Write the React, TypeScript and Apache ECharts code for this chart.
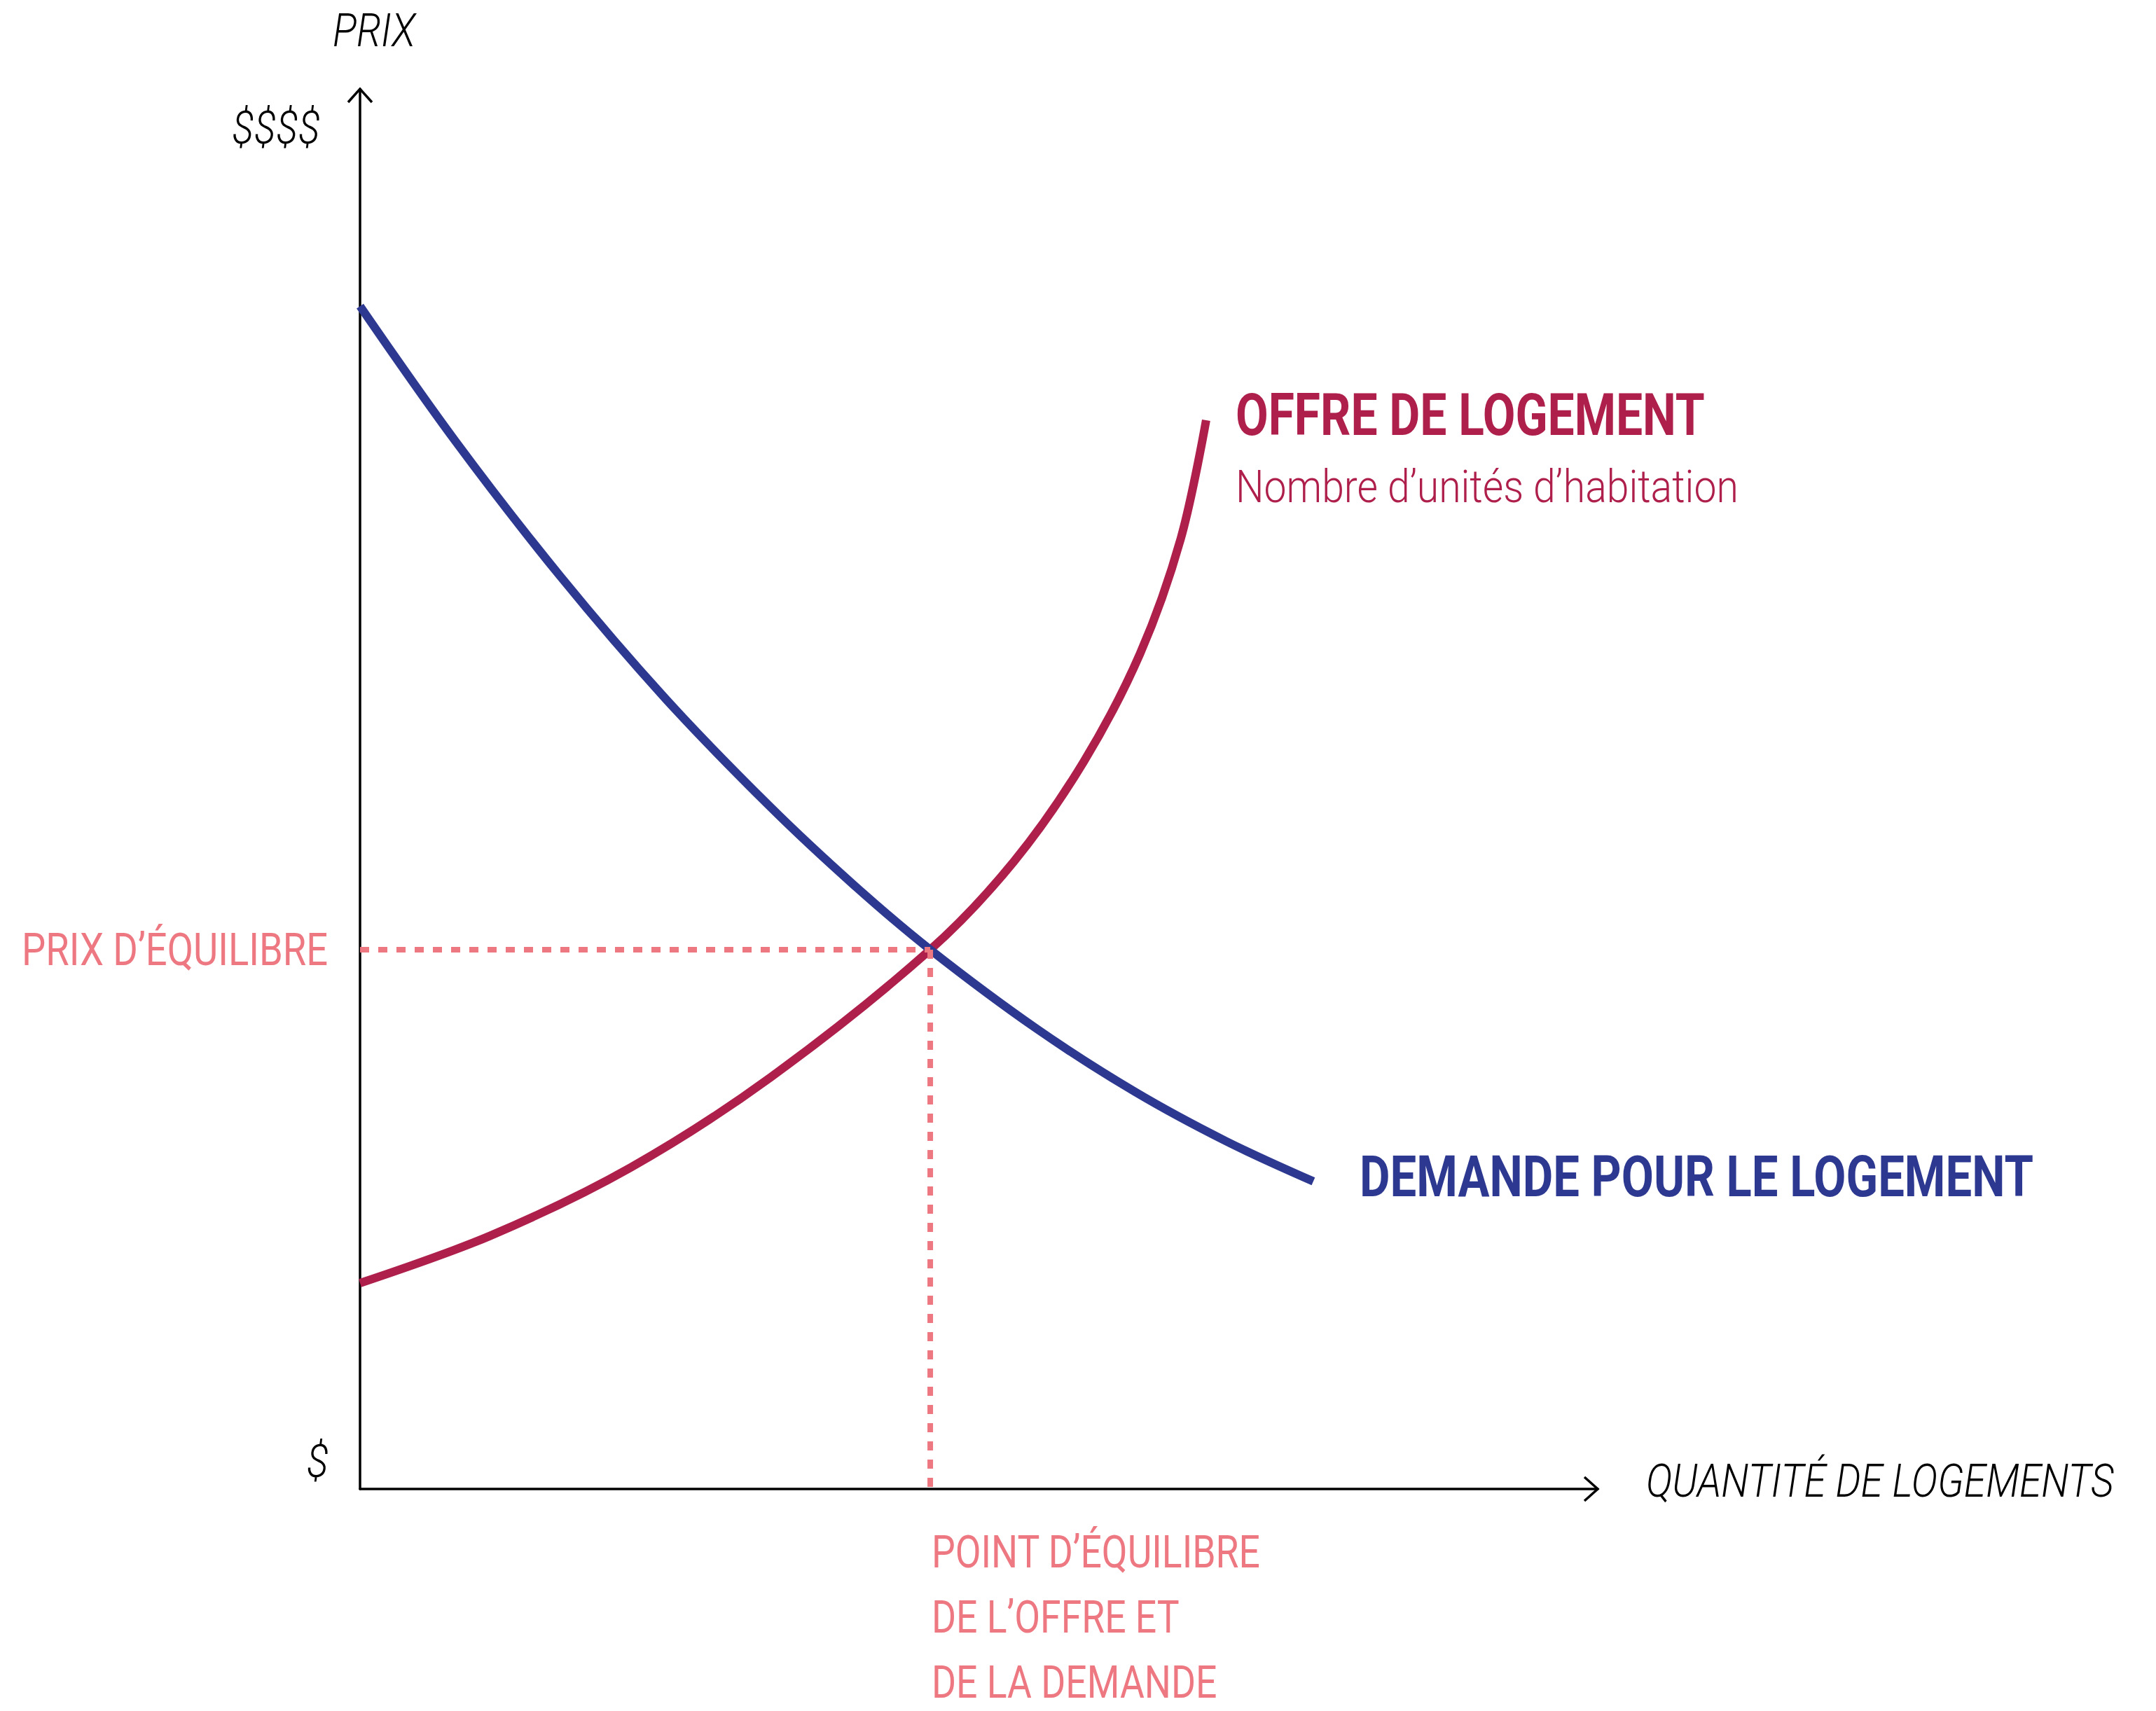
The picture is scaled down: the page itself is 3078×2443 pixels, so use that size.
import React, { useEffect, useRef } from "react";
import * as echarts from "echarts";

// Schematic values: quantity (0-100) and price (0-100)
const demandQ = [0, 7.7, 16.19, 24.67, 33.16, 39.95, 46.07, 54.67, 62.59, 69.95, 77.02];
const demandP = [84.49, 74.85, 65.18, 56.46, 48.71, 43.1, 38.52, 32.87, 28.38, 24.85, 21.97];
const supplyQ = [0, 10.53, 21.84, 33.16, 46.07, 52.84, 58.48, 63.03, 66.31, 68.36];
const supplyP = [14.71, 18.09, 22.95, 29.4, 38.52, 44.83, 51.96, 59.68, 67.88, 76.34];
const equilibriumQ = 46.07;
const equilibriumP = 38.52;
const axisMax = [100, 100];

const yAxisTitle = "PRIX";
const yTopLabel = "$$$$";
const yBottomLabel = "$";
const xAxisTitle = "QUANTITÉ DE LOGEMENTS";
const eqPriceLabel = "PRIX D’ÉQUILIBRE";
const eqPointLines = ["POINT D’ÉQUILIBRE", "DE L’OFFRE ET", "DE LA DEMANDE"];
const supplyTitle = "OFFRE DE LOGEMENT";
const supplySubtitle = "Nombre d’unités d’habitation";
const demandTitle = "DEMANDE POUR LE LOGEMENT";

const BLUE = "#2d3990";
const CRIMSON = "#ae1f4b";
const PINK = "#ee7881";
const FAMILY = "Roboto, 'Noto Sans', sans-serif";

export default function App() {
  const ref = useRef<HTMLDivElement>(null);

  useEffect(() => {
    if (!ref.current) return;
    const chart = echarts.init(ref.current, null, { renderer: "svg" });
    const zip = (a: number[], b: number[]) => a.map((v, i) => [v, b[i]]);

    const ctx = document.createElement("canvas").getContext("2d") as CanvasRenderingContext2D;
    const fontOf = (size: number, weight: number, italic: boolean) =>
      `${italic ? "italic " : ""}${weight} ${size}px ${FAMILY}`;
    const measure = (text: string, font: string) => {
      ctx.font = font;
      return ctx.measureText(text).width || 1;
    };
    const fitScale = (text: string, font: string, width: number) => width / measure(text, font);

    const txt = (
      text: string,
      x: number,
      y: number,
      font: string,
      color: string,
      scaleX: number,
      align: string = "left",
      lineHeight?: number
    ) => ({
      type: "text",
      x,
      y,
      scaleX,
      silent: true,
      style: { text, fill: color, font, align, verticalAlign: "middle", ...(lineHeight ? { lineHeight } : {}) },
    });

    chart.setOption({
      animation: false,
      backgroundColor: "#ffffff",
      grid: { left: 514, top: 127, width: 1767, height: 1999, containLabel: false },
      xAxis: {
        type: "value",
        min: 0,
        max: axisMax[0],
        axisLine: { show: true, onZero: false, lineStyle: { color: "#000", width: 3.5 } },
        axisTick: { show: false },
        axisLabel: { show: false },
        splitLine: { show: false },
      },
      yAxis: {
        type: "value",
        min: 0,
        max: axisMax[1],
        axisLine: { show: true, onZero: false, lineStyle: { color: "#000", width: 3.5 } },
        axisTick: { show: false },
        axisLabel: { show: false },
        splitLine: { show: false },
      },
      series: [
        {
          name: "Offre",
          type: "line",
          data: zip(supplyQ, supplyP),
          smooth: 0.35,
          symbol: "none",
          z: 2,
          lineStyle: { color: CRIMSON, width: 12, cap: "butt" },
        },
        {
          name: "Demande",
          type: "line",
          data: zip(demandQ, demandP),
          smooth: 0.35,
          symbol: "none",
          z: 3,
          lineStyle: { color: BLUE, width: 12, cap: "butt" },
        },
        {
          name: "Prix d'équilibre",
          type: "line",
          data: [[0, equilibriumP], [equilibriumQ, equilibriumP]],
          symbol: "none",
          z: 4,
          lineStyle: { color: PINK, width: 8, type: [13, 13], cap: "butt" },
        },
        {
          name: "Quantité d'équilibre",
          type: "line",
          data: [[equilibriumQ, equilibriumP], [equilibriumQ, 0]],
          symbol: "none",
          z: 4,
          lineStyle: { color: PINK, width: 8, type: [13, 13], cap: "butt" },
        },
      ],
    });

    const yTop = chart.convertToPixel({ gridIndex: 0 }, [0, axisMax[1]]) as number[];
    const xEnd = chart.convertToPixel({ gridIndex: 0 }, [axisMax[0], 0]) as number[];

    const fItal66 = fontOf(66, 300, true);
    const fItal67 = fontOf(67, 300, true);
    const fPink = fontOf(64, 400, false);
    const fBold83 = fontOf(83, 700, false);
    const fBold82 = fontOf(82, 700, false);
    const fSub = fontOf(64, 300, false);

    const dollarScale = fitScale(yTopLabel, fItal66, 126);
    const pointScale = fitScale(eqPointLines[0], fPink, 470);

    chart.setOption({
      graphic: [
        {
          type: "polyline",
          silent: true,
          shape: { points: [[yTop[0] - 17, yTop[1] + 19], [yTop[0], yTop[1]], [yTop[0] + 17, yTop[1] + 19]] },
          style: { stroke: "#000", lineWidth: 3.5, fill: "none" },
        },
        {
          type: "polyline",
          silent: true,
          shape: { points: [[xEnd[0] - 19, xEnd[1] - 17], [xEnd[0], xEnd[1]], [xEnd[0] - 19, xEnd[1] + 17]] },
          style: { stroke: "#000", lineWidth: 3.5, fill: "none" },
        },
        txt(yAxisTitle, 475, 44, fItal66, "#000", fitScale(yAxisTitle, fItal66, 118)),
        txt(yTopLabel, 457, 182, fItal66, "#000", dollarScale, "right"),
        txt(yBottomLabel, 469, 2086, fItal66, "#000", dollarScale, "right"),
        txt(xAxisTitle, 2350, 2114, fItal67, "#000", fitScale(xAxisTitle, fItal67, 668)),
        txt(eqPriceLabel, 31, 1356, fPink, PINK, fitScale(eqPriceLabel, fPink, 437)),
        txt(eqPointLines[0], 1330, 2216, fPink, PINK, pointScale, "left", 50),
        txt(eqPointLines[1], 1330, 2309, fPink, PINK, pointScale, "left", 50),
        txt(eqPointLines[2], 1330, 2402, fPink, PINK, pointScale, "left", 50),
        txt(supplyTitle, 1764, 593, fBold83, CRIMSON, fitScale(supplyTitle, fBold83, 670)),
        txt(supplySubtitle, 1764, 695, fSub, CRIMSON, fitScale(supplySubtitle, fSub, 718)),
        txt(demandTitle, 1941, 1680, fBold82, BLUE, fitScale(demandTitle, fBold82, 962)),
      ],
    });

    return () => chart.dispose();
  }, []);

  return (
    <div
      ref={ref}
      style={{ position: "absolute", left: 0, top: 0, width: 3078, height: 2443, background: "#fff" }}
    />
  );
}
